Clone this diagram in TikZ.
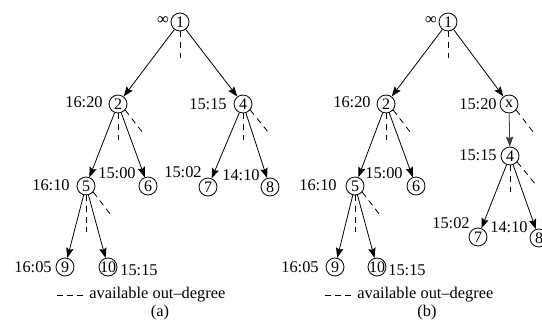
\documentclass[tikz,border=0pt]{standalone}
\usepackage{fontspec}
\setmainfont{Liberation Serif}
\usetikzlibrary{arrows.meta}
\begin{document}
\begin{tikzpicture}[x=0.75pt,y=-0.75pt,
  vtx/.style={draw,circle,line width=0.6pt,minimum size=13.5pt,inner sep=0pt,font=\fontsize{12}{12}\selectfont},
  lbl/.style={inner sep=0pt,font=\fontsize{12.3}{12}\selectfont},
  edge/.style={line width=0.6pt,-{Stealth[length=7.5pt,width=5.5pt,inset=1.2pt]}},
  avail/.style={line width=0.6pt,dash pattern=on 4.5pt off 3.5pt}]
\useasboundingbox (0,0) rectangle (542,325);
% ---------- (a)
\node[vtx] (n1) at (180,22) {1};
\node[vtx] (n2) at (118,104) {2};
\node[vtx] (n4) at (243,104) {4};
\node[vtx] (n5) at (86,186) {5};
\node[vtx] (n6) at (148,186) {6};
\node[vtx] (n7) at (208,187) {7};
\node[vtx] (n8) at (270,187) {8};
\node[vtx] (n9) at (65,267) {9};
\node[vtx] (n10) at (108,267) {\makebox[0pt]{10}};
\foreach \a/\b in {n1/n2,n1/n4,n2/n5,n2/n6,n4/n7,n4/n8,n5/n9,n5/n10}
  \draw[edge] (\a) -- (\b);
\node[lbl] (la1) at (163,21) {∞};
\node[lbl] (la2) at (84,102) {16:20};
\node[lbl] (la4) at (208,104) {15:15};
\node[lbl] (la6) at (117,173) {15:00};
\node[lbl] (la7) at (183,172) {15:02};
\node[lbl] (la8) at (241,175) {14:10};
\node[lbl] (la5) at (51,185) {16:10};
\node[lbl] (la9) at (33,267) {16:05};
\node[lbl] (la10) at (139,270) {15:15};
\draw[avail] (n1.south) -- ++(0,27);
\draw[avail] (n2.south) -- ++(0,27);
\draw[avail] (n2.-40) -- ++(17,22);
\draw[avail] (n4.south) -- ++(0,27);
\draw[avail] (n4.-40) -- ++(18,22);
\draw[avail] (n5.south) -- ++(0,37);
\draw[avail] (n5.-40) -- ++(17,22);
\coordinate (lega0) at (57,295);
\coordinate (lega1) at (85,295);
\draw[avail,dash pattern=on 4.5pt off 3pt] (lega0) -- (lega1);
\node[lbl,anchor=west] (lega) at (89,295) {available out–degree};
\node[lbl] (capa) at (160,313) {(a)};
% ---------- (b)
\node[vtx] (m1) at (448,22) {1};
\node[vtx] (m2) at (386,104) {2};
\node[vtx] (mx) at (509,104) {x};
\node[vtx] (m4) at (510,156) {4};
\node[vtx] (m5) at (355,186) {5};
\node[vtx] (m6) at (416,186) {6};
\node[vtx] (m7) at (478,237) {7};
\node[vtx] (m8) at (539,238) {8};
\node[vtx] (m9) at (335,267) {9};
\node[vtx] (m10) at (377,267) {\makebox[0pt]{10}};
\foreach \a/\b in {m1/m2,m1/mx,m2/m5,m2/m6,m4/m7,m4/m8,m5/m9,m5/m10}
  \draw[edge] (\a) -- (\b);
\draw[edge,black!75] (mx) -- (m4);
\node[lbl] (lb1) at (431,21) {∞};
\node[lbl] (lb2) at (352,102) {16:20};
\node[lbl] (lbx) at (478,104) {15:20};
\node[lbl] (lb4) at (478,155) {15:15};
\node[lbl] (lb6) at (384,173) {15:00};
\node[lbl] (lb5) at (318,185) {16:10};
\node[lbl] (lb7) at (451,223) {15:02};
\node[lbl] (lb8) at (509,227) {14:10};
\node[lbl] (lb9) at (300,267) {16:05};
\node[lbl] (lb10) at (407,270) {15:15};
\draw[avail] (m1.south) -- ++(0,27);
\draw[avail] (m2.south) -- ++(0,27);
\draw[avail] (m2.-40) -- ++(17,22);
\draw[avail] (mx.-40) -- ++(17,22);
\draw[avail] (m4.south) -- ++(0,27);
\draw[avail] (m4.-40) -- ++(18,22);
\draw[avail] (m5.south) -- ++(0,37);
\draw[avail] (m5.-40) -- ++(17,22);
\coordinate (legb0) at (325,295);
\coordinate (legb1) at (353,295);
\draw[avail,dash pattern=on 4.5pt off 3pt] (legb0) -- (legb1);
\node[lbl,anchor=west] (legb) at (357,295) {available out–degree};
\node[lbl] (capb) at (427,313) {(b)};
\end{tikzpicture}
\end{document}
